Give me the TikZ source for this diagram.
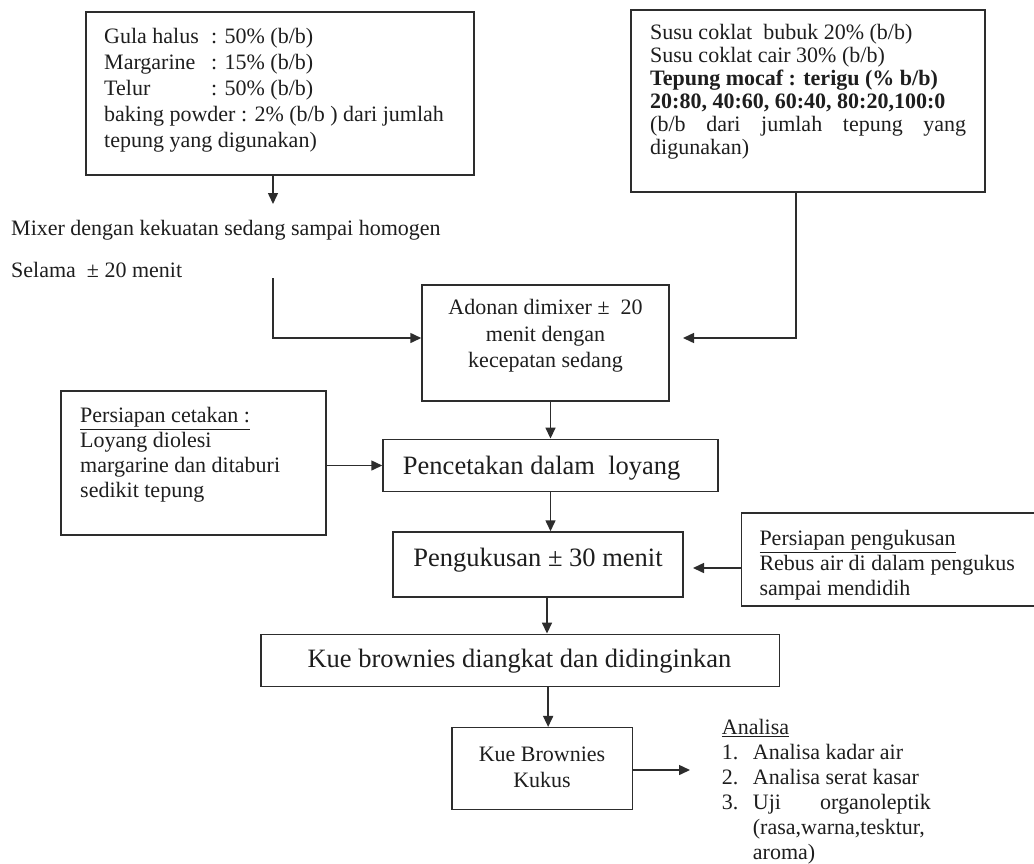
\documentclass[tikz,border=0pt]{standalone}
\usepackage{fontspec}
\setmainfont{Liberation Serif}
\usetikzlibrary{arrows.meta,calc}
\definecolor{ink}{RGB}{30,30,30}
\definecolor{edge}{RGB}{45,45,45}
\begin{document}
\begin{tikzpicture}[x=1pt,y=-1pt,
  box/.style={draw=edge, line width=1.5pt, inner sep=0pt, rectangle},
  txt/.style={text=ink, inner sep=0pt, font=\fontsize{22}{25}\selectfont, align=left},
  ctxt/.style={text=ink, inner sep=0pt, align=center},
  big/.style={text=ink, inner sep=0pt, font=\fontsize{26.5}{30}\selectfont},
  arr/.style={draw=edge, line width=1.5pt, -{Triangle[length=11pt,width=10pt]}}]
\useasboundingbox (0,0) rectangle (1034,863);
\clip (0,0) rectangle (1034,863);
\fill[white] (0,0) rectangle (1034,863);

% boxes
\node[box, minimum width=388pt, minimum height=163pt] (box1) at (280,93.5) {};
\node[box, minimum width=354pt, minimum height=182pt] (box2) at (808,101) {};
\node[box, minimum width=247pt, minimum height=116pt] (adonan) at (545.5,343) {};
\node[box, minimum width=265pt, minimum height=144pt] (cetak) at (193.5,463) {};
\node[box, minimum width=335pt, minimum height=52.4pt] (pencetakan) at (550.5,465.5) {};
\node[box, minimum width=290pt, minimum height=65pt] (kukusan) at (538,564.5) {};
\node[box, minimum width=303.3pt, minimum height=93pt] (siap) at (893.35,559.5) {};
\node[box, minimum width=518.3pt, minimum height=52.4pt] (angkat) at (520.15,660.5) {};
\node[box, minimum width=180.3pt, minimum height=81.6pt] (kukus) at (542.15,768.5) {};

% texts
\node[txt, font=\fontsize{22}{26}\selectfont, anchor=north west] (t1) at (104,28.5)
  {\makebox[107pt][l]{Gula halus}: 50\% (b/b)\\
   \makebox[107pt][l]{Margarine}: 15\% (b/b)\\
   \makebox[107pt][l]{Telur}: 50\% (b/b)\\
   baking powder : 2\% (b/b ) dari jumlah\\
   tepung yang digunakan)};
\node[txt, font=\fontsize{22}{23}\selectfont, anchor=north west] (t2) at (650,24)
  {Susu coklat\ \ bubuk 20\% (b/b)\\
   Susu coklat cair 30\% (b/b)\\
   \textbf{Tepung mocaf : terigu (\% b/b)}\\
   \textbf{20:80, 40:60, 60:40, 80:20,100:0}\\
   \makebox[316pt][s]{(b/b dari jumlah tepung yang}\\
   digunakan)};
\node[txt, anchor=west] (mixer) at (11,230) {Mixer dengan kekuatan sedang sampai homogen};
\node[txt, anchor=west] (selama) at (11,270) {Selama\ \ ± 20 menit};
\node[ctxt, font=\fontsize{22}{26.7}\selectfont] (tadonan) at (545.5,336)
  {Adonan dimixer ±\ \ 20\\ menit dengan\\ kecepatan sedang};
\node[txt, anchor=north west] (tcetak) at (80,407.5)
  {\underline{Persiapan cetakan :}\\ Loyang diolesi\\ margarine dan ditaburi\\ sedikit tepung};
\node[big] (tpencetakan) at (541.7,468) {Pencetakan dalam\ \ loyang};
\node[big] (tkukusan) at (538,560) {Pengukusan ± 30 menit};
\node[txt, anchor=north west] (tsiap) at (759.3,530.5)
  {\underline{Persiapan pengukusan}\\ Rebus air di dalam pengukus\\ sampai mendidih};
\node[big] (tangkat) at (519.5,661) {Kue brownies diangkat dan didinginkan};
\node[ctxt, font=\fontsize{22}{26}\selectfont] (tkukus) at (542,767) {Kue Brownies\\ Kukus};
\node[txt, anchor=north west] (tanalisa) at (721.7,719)
  {\underline{Analisa}\\
   \makebox[31pt][l]{1.}Analisa kadar air\\
   \makebox[31pt][l]{2.}Analisa serat kasar\\
   \makebox[31pt][l]{3.}\makebox[178pt][s]{Uji organoleptik}\\
   \hspace*{31pt}(rasa,warna,tesktur,\\
   \hspace*{31pt}aroma)};

% free ends
\coordinate (m1) at (273,204);
\coordinate (s1) at (273,278);
\coordinate (r1) at (683,338);
\coordinate (r2) at (693,568);
\coordinate (r3) at (690,770);

% connectors
\draw[arr] ([xshift=-7pt]box1.south) -- (m1);
\draw[arr] (s1) |- ([yshift=5pt]adonan.west);
\draw[arr] ([xshift=-12pt]box2.south) |- (r1);
\draw[arr] (adonan.south -| pencetakan.north) -- (pencetakan.north);
\draw[arr] (cetak.east |- pencetakan.west) -- (pencetakan.west);
\draw[arr] (pencetakan.south) -- (pencetakan.south |- kukusan.north);
\draw[arr] (siap.west |- r2) -- (r2);
\draw[arr] ([xshift=9pt]kukusan.south) -- ([xshift=9pt]kukusan.south |- angkat.north);
\draw[arr] ([xshift=6pt]kukus.north |- angkat.south) -- ([xshift=6pt]kukus.north);
\draw[arr] (kukus.east |- r3) -- (r3);
\end{tikzpicture}
\end{document}
